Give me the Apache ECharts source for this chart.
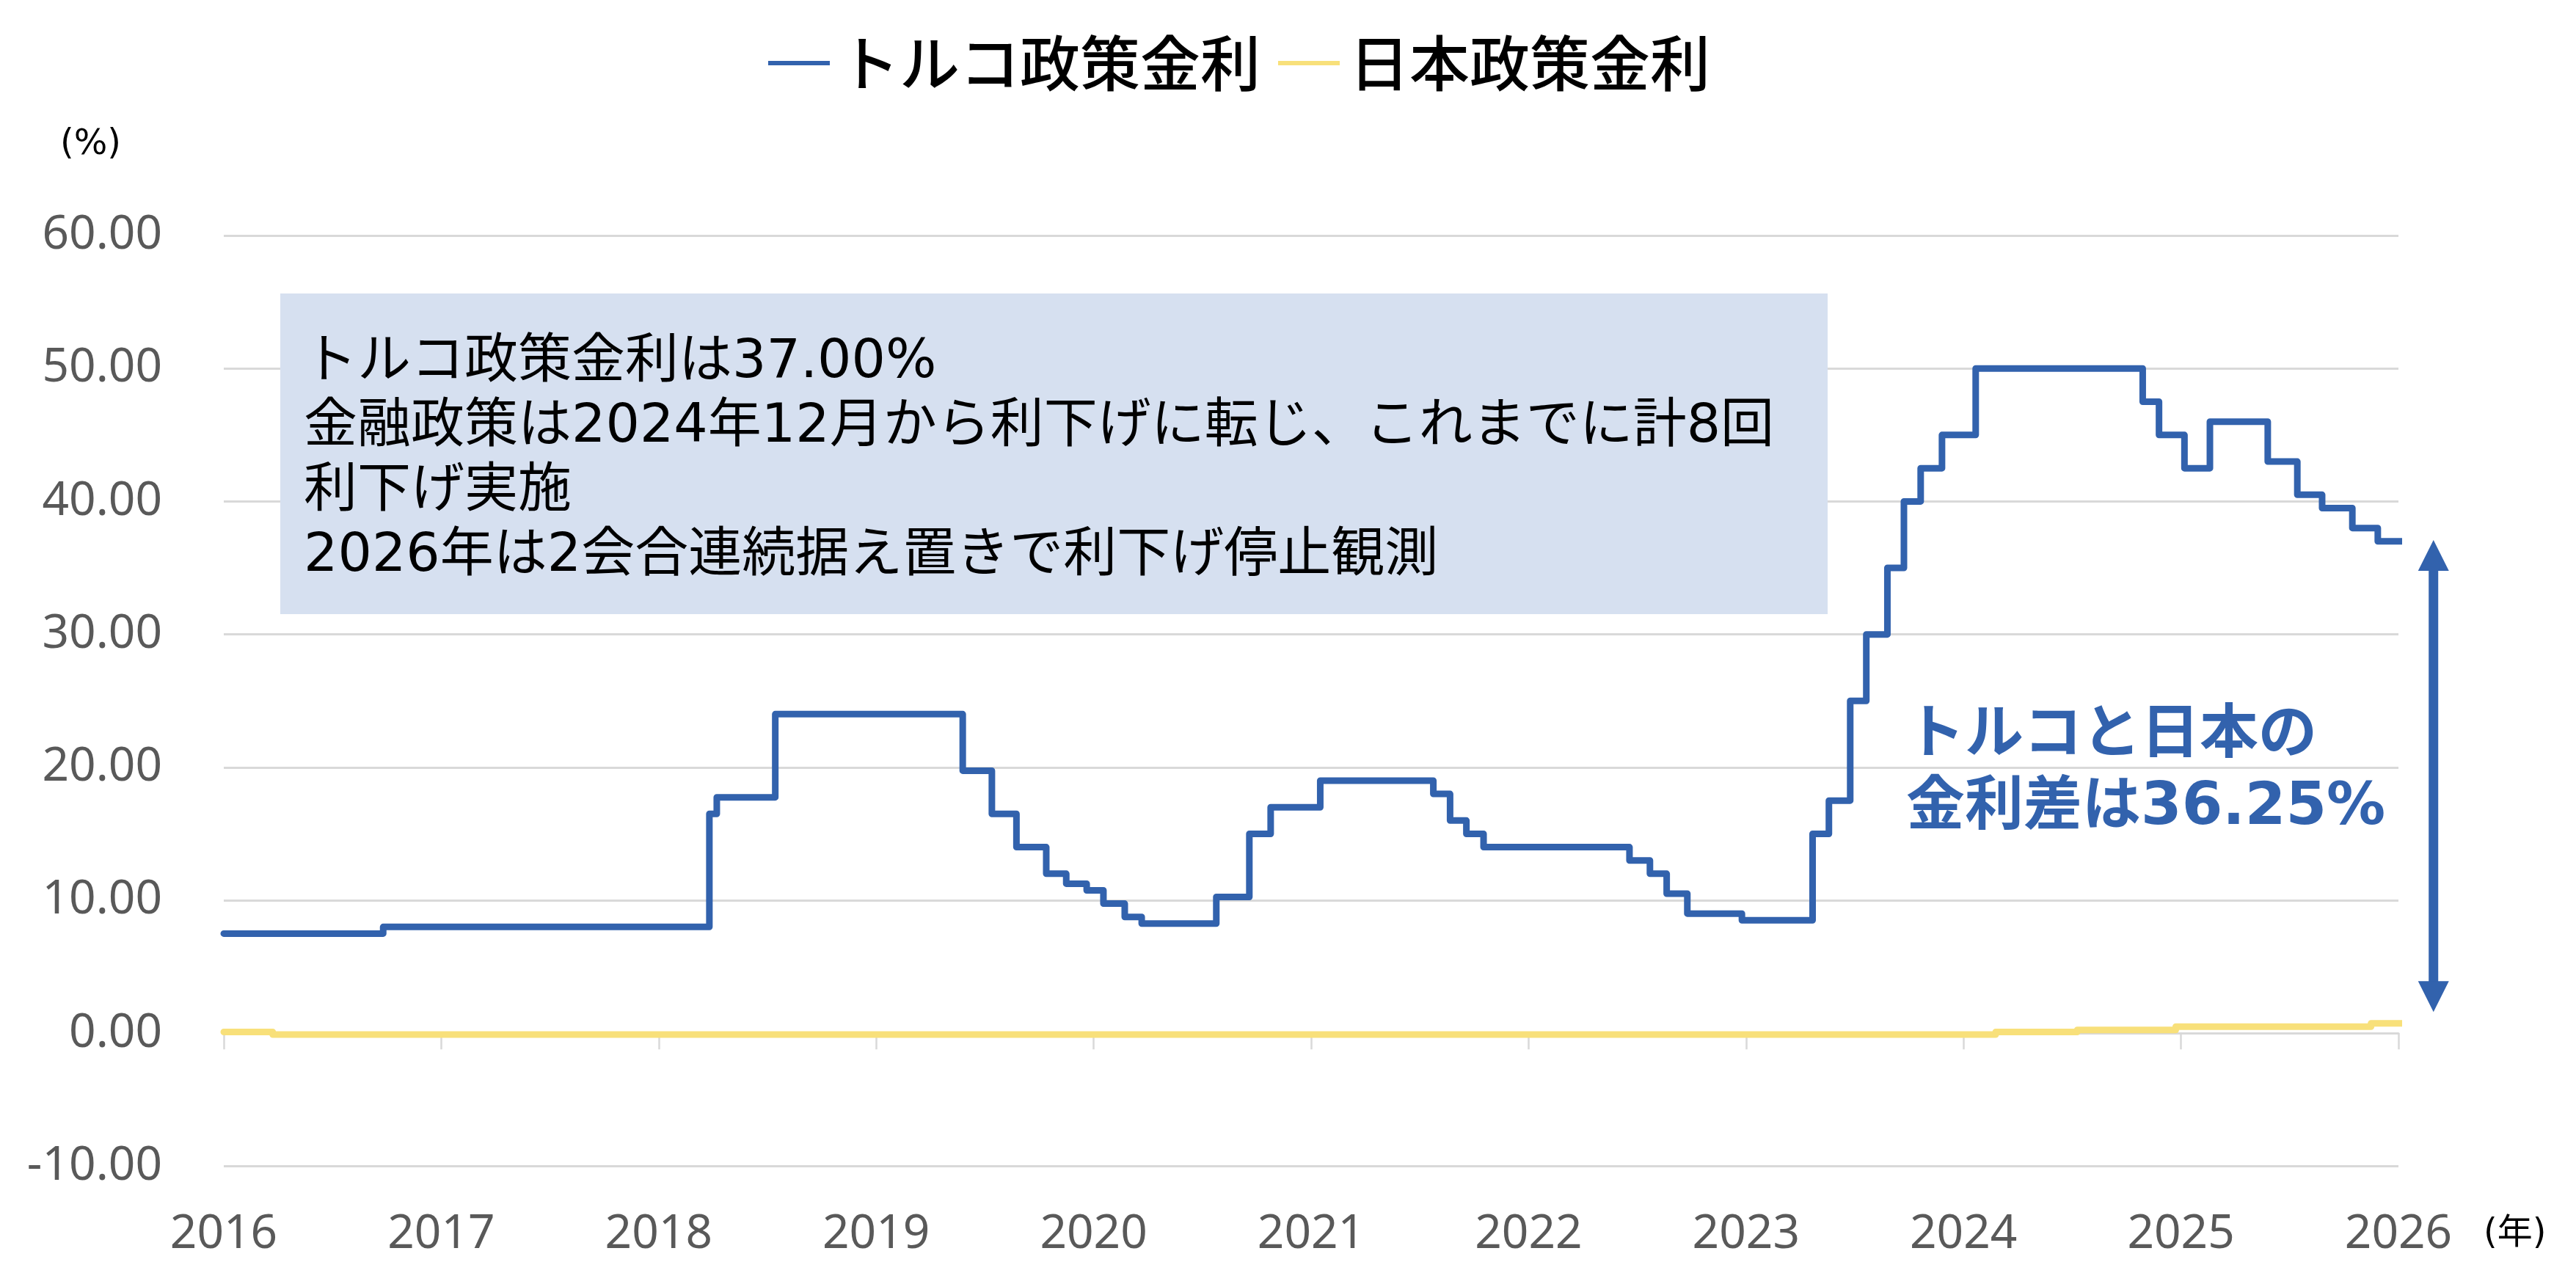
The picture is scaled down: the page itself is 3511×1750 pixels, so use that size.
<!DOCTYPE html>
<html>
<head>
<meta charset="utf-8">
<script src="https://cdn.jsdelivr.net/npm/echarts@6/dist/echarts.min.js"></script>
<style>
  html, body { margin: 0; padding: 0; background: #fff; }
  #main { width: 3511px; height: 1750px; }
</style>
</head>
<body>
<div id="main"></div>
<script>
// トルコ政策金利（変更日を年の小数で、その日からの水準）
const turkeyDate = [2016.0, 2016.733, 2018.233, 2018.267, 2018.536, 2019.398, 2019.532, 2019.645,
  2019.782, 2019.874, 2019.968, 2020.045, 2020.143, 2020.221, 2020.564, 2020.716, 2020.814,
  2021.042, 2021.562, 2021.639, 2021.714, 2021.793, 2022.464, 2022.558, 2022.635, 2022.730,
  2022.981, 2023.306, 2023.381, 2023.479, 2023.553, 2023.650, 2023.726, 2023.803, 2023.901,
  2024.056, 2024.824, 2024.899, 2025.016, 2025.133, 2025.399, 2025.535, 2025.649, 2025.788,
  2025.905, 2026.03];
const turkeyRate = [7.5, 8, 16.5, 17.75, 24, 19.75, 16.5, 14,
  12, 11.25, 10.75, 9.75, 8.75, 8.25, 10.25, 15, 17,
  19, 18, 16, 15, 14, 13, 12, 10.5, 9,
  8.5, 15, 17.5, 25, 30, 35, 40, 42.5, 45,
  50, 47.5, 45, 42.5, 46, 43, 40.5, 39.5, 38,
  37, 37];

// 日本政策金利
const japanDate = [2016.0, 2016.225, 2024.148, 2024.523, 2024.976, 2025.874, 2026.03];
const japanRate = [0.1, -0.1, 0.1, 0.25, 0.5, 0.75, 0.75];

// 金利差の矢印
const gapX = [2026.161];
const gapTop = [37.1];
const gapBottom = [1.6];

const yearMin = 2016, yearMax = 2026;
const yMin = -10, yMax = 60, yStep = 10;

const names = ['トルコ政策金利', '日本政策金利'];
const noteLines = [
  'トルコ政策金利は37.00%',
  '金融政策は2024年12月から利下げに転じ、これまでに計8回',
  '利下げ実施',
  '2026年は2会合連続据え置きで利下げ停止観測'
];
const gapLabel = ['トルコと日本の', '金利差は36.25%'];

const BLUE = '#3262AD';
const YELLOW = '#F8E07A';
const GRID = '#D9D9D9';
const CJK = '"Noto Sans CJK JP", "Noto Sans", sans-serif';
const MIXED = '"DejaVu Sans", "Noto Sans CJK JP", sans-serif';
const LATIN = '"Noto Sans", "Noto Sans CJK JP", sans-serif';

const pairs = (xs, ys) => xs.map((x, i) => [x, ys[i]]);

var myChart = echarts.init(document.getElementById('main'));

var option = {
  backgroundColor: '#fff',
  animation: false,
  legend: {
    data: names.map(n => ({ name: n, icon: 'rect' })),
    left: 1042,
    top: 40,
    itemWidth: 84,
    itemHeight: 6,
    itemGap: 24,
    textStyle: {
      fontSize: 82,
      fontFamily: CJK,
      fontWeight: 500,
      color: '#000',
      padding: [0, 0, 0, 8]
    }
  },
  grid: { left: 305, right: 242, top: 321, bottom: 160.5, containLabel: false, outerBoundsMode: 'none' },
  xAxis: {
    type: 'value',
    min: yearMin,
    max: yearMax,
    interval: 1,
    axisLine: { show: true, onZero: true, lineStyle: { color: GRID, width: 3 } },
    axisTick: { show: true, length: 22, lineStyle: { color: GRID, width: 2.5 } },
    axisLabel: {
      margin: 61,
      fontSize: 64,
      fontFamily: LATIN,
      color: '#595959',
      formatter: v => String(Math.round(v))
    },
    splitLine: { show: false }
  },
  yAxis: {
    type: 'value',
    min: yMin,
    max: yMax,
    interval: yStep,
    axisLine: { show: false },
    axisTick: { show: false },
    axisLabel: {
      margin: 84,
      fontSize: 64,
      fontFamily: LATIN,
      color: '#595959',
      formatter: v => v.toFixed(2)
    },
    splitLine: { lineStyle: { color: GRID, width: 3 } }
  },
  graphic: [
    {
      type: 'rect', z: 1,
      shape: { x: 382, y: 400, width: 2109, height: 437 },
      style: { fill: '#D6E0F0' }
    },
    {
      type: 'text', z: 5,
      x: 414, y: 451,
      style: {
        text: noteLines.join('\n'),
        font: '73px ' + MIXED,
        lineHeight: 88,
        fill: '#000',
        verticalAlign: 'top'
      }
    },
    {
      type: 'text', z: 5,
      x: 2598, y: 955,
      style: {
        text: gapLabel.join('\n'),
        font: 'bold 80px ' + MIXED,
        lineHeight: 98,
        fill: BLUE,
        verticalAlign: 'top'
      }
    },
    {
      type: 'text', z: 5,
      x: 82, y: 198,
      style: { text: '(%)', font: '48px ' + MIXED, fill: '#000', verticalAlign: 'middle' }
    },
    {
      type: 'text', z: 5,
      x: 3385, y: 1683,
      style: { text: '(年)', font: '48px ' + MIXED, fill: '#000', verticalAlign: 'middle' }
    }
  ],
  series: [
    {
      name: names[0],
      type: 'line',
      step: 'end',
      symbol: 'none',
      clip: false,
      data: pairs(turkeyDate, turkeyRate),
      lineStyle: { color: BLUE, width: 9, cap: 'round', join: 'round' },
      itemStyle: { color: BLUE },
      z: 3
    },
    {
      name: names[1],
      type: 'line',
      step: 'end',
      symbol: 'none',
      clip: false,
      data: pairs(japanDate, japanRate),
      lineStyle: { color: YELLOW, width: 9, cap: 'round', join: 'round' },
      itemStyle: { color: YELLOW },
      z: 3
    },
    {
      // 両矢印
      name: 'gap',
      type: 'custom',
      clip: false,
      silent: true,
      data: gapX.map((x, i) => [x, gapTop[i], gapBottom[i]]),
      encode: { x: 0, y: [1, 2] },
      renderItem: function (params, api) {
        var top = api.coord([api.value(0), api.value(1)]);
        var bot = api.coord([api.value(0), api.value(2)]);
        var h = 42, w = 21;
        return {
          type: 'group',
          children: [
            { type: 'line', shape: { x1: top[0], y1: top[1] + h - 2, x2: bot[0], y2: bot[1] - h + 2 },
              style: { stroke: BLUE, lineWidth: 13 } },
            { type: 'polygon', shape: { points: [[top[0], top[1]], [top[0] - w, top[1] + h], [top[0] + w, top[1] + h]] },
              style: { fill: BLUE } },
            { type: 'polygon', shape: { points: [[bot[0], bot[1]], [bot[0] - w, bot[1] - h], [bot[0] + w, bot[1] - h]] },
              style: { fill: BLUE } }
          ]
        };
      },
      z: 4
    }
  ]
};
myChart.setOption(option);
</script>
</body>
</html>
